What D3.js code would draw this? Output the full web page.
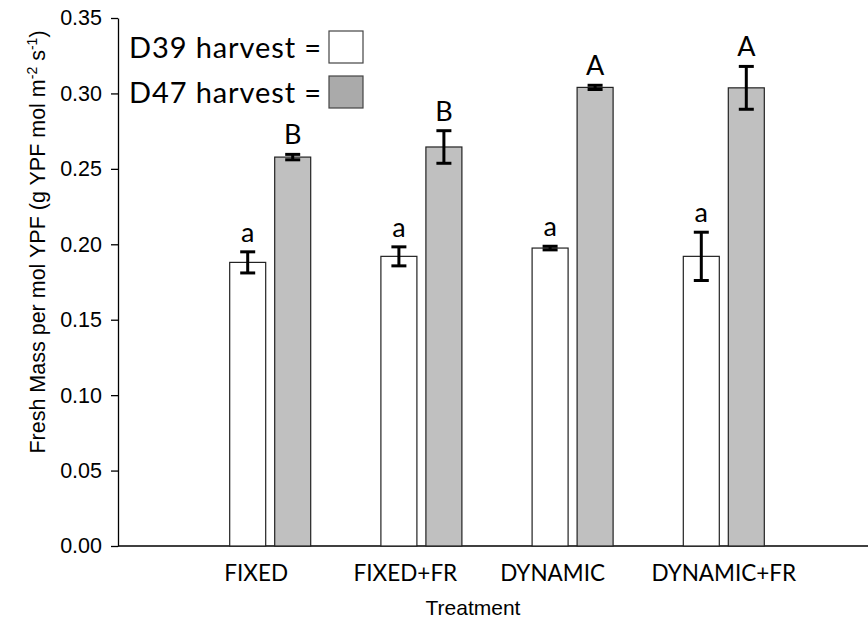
<!DOCTYPE html>
<html>
<head>
<meta charset="utf-8">
<script src="https://cdn.jsdelivr.net/npm/d3@7"></script>
<style>
  html, body { margin: 0; padding: 0; background: #fff; }
  svg { display: block; }
</style>
</head>
<body>
<svg id="chart" width="868" height="632"></svg>
<script>
// Treatments and the two harvest series (mean ± error)
const treatments = ["FIXED", "FIXED+FR", "DYNAMIC", "DYNAMIC+FR"];
const d39Mean = [0.188, 0.192, 0.1975, 0.192];
const d39Err  = [0.007, 0.0063, 0.0012, 0.016];
const d47Mean = [0.2578, 0.2645, 0.304, 0.3037];
const d47Err  = [0.0018, 0.0108, 0.0014, 0.0142];
const d39Letters = ["a", "a", "a", "a"];
const d47Letters = ["B", "B", "A", "A"];
const yTicks = [0, 0.05, 0.10, 0.15, 0.20, 0.25, 0.30, 0.35];
const seriesNames = ["D39 harvest =", "D47 harvest ="];

(function () {
const svg = d3.select("#chart");
const W = 868;
const plotLeft = 118, plotTop = 18, plotBottom = 546;

const y = d3.scaleLinear().domain([0, 0.35]).range([plotBottom, plotTop]);
// group centres sit at 1..4 on a 0..5 scale across the plotting width
const x = d3.scaleLinear().domain([0, 5]).range([119, 875]);
const barW = 36, gap = 4.5;
const labelShift = [-14, -16, -20, 0];

const uiFont = "Lato, 'Open Sans', sans-serif";
const axFont = "'Liberation Sans', Arial, sans-serif";

// y axis
const yAxis = d3.axisLeft(y).tickValues(yTicks).tickFormat(d3.format(".2f"))
  .tickSize(7).tickSizeOuter(0).tickPadding(9);
const gy = svg.append("g").attr("transform", `translate(${plotLeft},0)`).call(yAxis);
gy.selectAll("path, line").attr("stroke", "#000").attr("stroke-width", 1.3);
gy.selectAll("text").attr("font-family", axFont).attr("font-size", 21.5).attr("fill", "#000");

// x axis baseline
svg.append("line").attr("x1", plotLeft).attr("x2", W).attr("y1", plotBottom).attr("y2", plotBottom)
  .attr("stroke", "#000").attr("stroke-width", 1.3);

const rows = treatments.map((t, i) => ({
  t, i,
  series: [
    { m: d39Mean[i], e: d39Err[i], l: d39Letters[i], fill: "#ffffff", side: -1 },
    { m: d47Mean[i], e: d47Err[i], l: d47Letters[i], fill: "#c0c0c0", side: 1 }
  ]
}));

const bars = svg.append("g");
rows.forEach(r => {
  const c = x(r.i + 1);
  r.series.forEach(s => {
    const x0 = s.side < 0 ? c - gap - barW : c + gap;
    const cx = x0 + barW / 2;
    bars.append("rect")
      .attr("x", x0).attr("y", y(s.m))
      .attr("width", barW).attr("height", y(0) - y(s.m))
      .attr("fill", s.fill).attr("stroke", "#222").attr("stroke-width", 1.2);
    // error bar
    const eTop = y(s.m + s.e), eBot = y(s.m - s.e);
    const eb = bars.append("g").attr("stroke", "#000").attr("stroke-width", 3);
    eb.append("line").attr("x1", cx).attr("x2", cx).attr("y1", eTop).attr("y2", eBot);
    eb.append("line").attr("x1", cx - 7.5).attr("x2", cx + 7.5).attr("y1", eTop).attr("y2", eTop);
    eb.append("line").attr("x1", cx - 7.5).attr("x2", cx + 7.5).attr("y1", eBot).attr("y2", eBot);
    // significance letter
    bars.append("text").attr("x", cx).attr("y", eTop - 10)
      .attr("text-anchor", "middle").attr("font-family", uiFont).attr("font-size", 27)
      .attr("fill", "#000").text(s.l);
  });
  svg.append("text").attr("x", c + labelShift[r.i]).attr("y", 581)
    .attr("text-anchor", "middle").attr("font-family", uiFont).attr("font-size", 22.5)
    .attr("fill", "#000").text(r.t);
});

// axis titles
svg.append("text").attr("x", 473).attr("y", 615)
  .attr("text-anchor", "middle").attr("font-family", axFont).attr("font-size", 21)
  .text("Treatment");

const yTitle = svg.append("text")
  .attr("transform", `translate(45,242) rotate(-90)`)
  .attr("text-anchor", "middle").attr("font-family", axFont).attr("font-size", 21.5);
yTitle.append("tspan").text("Fresh Mass per mol YPF (g YPF mol m");
yTitle.append("tspan").attr("dy", -8).attr("font-size", 14).text("-2");
yTitle.append("tspan").attr("dy", 8).text(" s");
yTitle.append("tspan").attr("dy", -8).attr("font-size", 14).text("-1");
yTitle.append("tspan").attr("dy", 8).text(")");

// legend
const legFills = ["#ffffff", "#aaaaaa"];
seriesNames.forEach((n, i) => {
  const by = 31 + i * 45;
  svg.append("text").attr("x", 129).attr("y", by + 27)
    .attr("font-family", uiFont).attr("font-size", 29).attr("letter-spacing", 0.9)
    .attr("fill", "#000").text(n);
  svg.append("rect").attr("x", 329).attr("y", by).attr("width", 34).attr("height", 32)
    .attr("fill", legFills[i]).attr("stroke", "#444").attr("stroke-width", 1.2);
});
})();
</script>
</body>
</html>
